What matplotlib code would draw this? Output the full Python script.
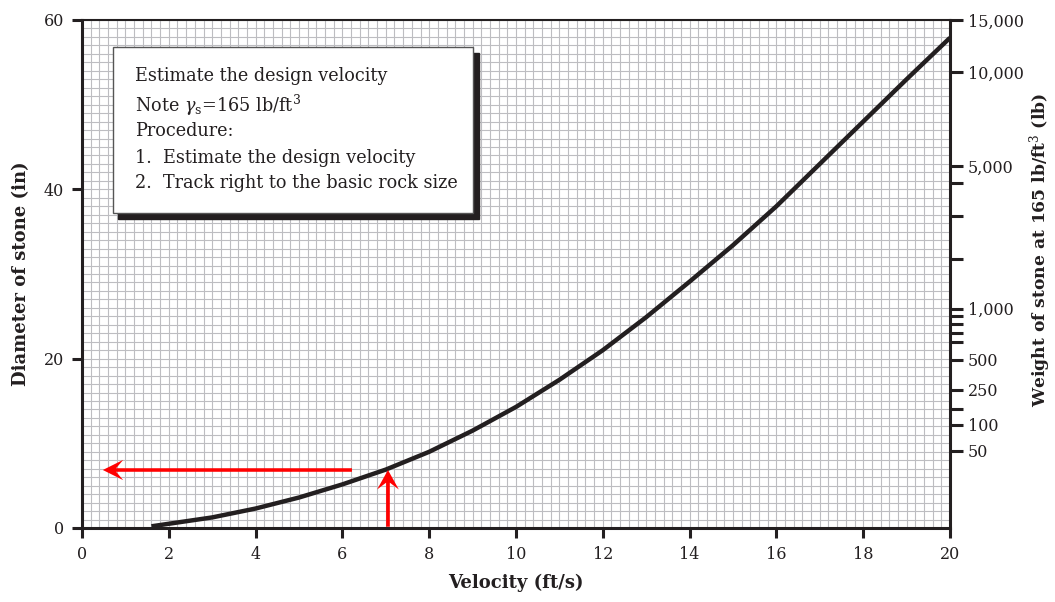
import numpy as np
import matplotlib
matplotlib.use("Agg")
import matplotlib.pyplot as plt
from matplotlib.patches import Rectangle

plt.rcParams['font.family'] = ['DejaVu Serif']
plt.rcParams['mathtext.fontset'] = 'dejavuserif'

# Curve: velocity (ft/s) vs stone diameter (in)
velocity = [1.6, 2, 3, 4, 5, 6, 7, 8, 9, 10, 11, 12, 13, 14, 15, 16, 17, 18, 19, 20]
diameter = [0.2, 0.5, 1.25, 2.3, 3.6, 5.15, 6.9, 9.0, 11.5, 14.3, 17.5, 21.0,
            24.9, 29.1, 33.4, 38.0, 43.0, 48.0, 53.0, 57.9]

# Right axis: weight ticks placed at the diameters where they sit on the chart
weight_tick_diam = [60.0, 53.8, 42.75, 40.8, 36.8, 31.8, 25.9, 25.0, 24.06, 23.07,
                    22.0, 19.9, 16.3, 14.1, 12.2, 9.1]
weight_tick_labels = ['15,000', '10,000', '5,000', '', '', '', '1,000', '', '', '',
                      '', '500', '250', '', '100', '50']

x_ticks = list(range(0, 21, 2))
y_ticks = [0, 20, 40, 60]

# Worked example shown with the red arrows
design_velocity = 7.05
design_diameter = 6.85

box_lines = [
    'Estimate the design velocity',
    'Note $\\gamma_{\\mathrm{s}}$=165 lb/ft$^3$',
    'Procedure:',
    '1.  Estimate the design velocity',
    '2.  Track right to the basic rock size',
]

ink = '#231f20'

fig = plt.figure(figsize=(10.55, 6.02), dpi=100)
ax = fig.add_axes([82 / 1055, 74 / 602, 868 / 1055, 508 / 602])

ax.set_xlim(0, 20)
ax.set_ylim(0, 60)

# graph paper grid
ax.set_xticks(np.arange(0, 20.001, 0.2), minor=True)
ax.set_yticks(np.arange(0, 60.001, 1), minor=True)
ax.grid(which='both', color='#bdbdc1', linewidth=0.8, zorder=0)
ax.set_axisbelow(True)

ax.set_xticks(x_ticks)
ax.set_yticks(y_ticks)
ax.tick_params(which='minor', length=0)
ax.tick_params(which='major', length=7, width=2.2, color=ink, labelsize=11.5,
               labelcolor=ink, pad=6)

for side in ['left', 'bottom', 'top', 'right']:
    ax.spines[side].set_linewidth(2.2)
    ax.spines[side].set_color(ink)
ax.spines['top'].set_linewidth(1.5)

ax.plot(velocity, diameter, color=ink, linewidth=3.2, solid_capstyle='butt',
        solid_joinstyle='round', zorder=3)

# red arrows: up from the velocity, then left to the diameter axis
ax.arrow(design_velocity, 0.15, 0, design_diameter - 0.15, width=0.085,
         head_width=0.5, head_length=2.3, overhang=0.35, length_includes_head=True,
         color='#ff0000', linewidth=0, zorder=4)
ax.arrow(6.22, design_diameter, 0.48 - 6.22, 0, width=0.42,
         head_width=2.4, head_length=0.47, overhang=0.35, length_includes_head=True,
         color='#ff0000', linewidth=0, zorder=4)

ax.set_xlabel('Velocity (ft/s)', fontsize=13, fontweight='bold', color=ink, labelpad=8)
ax.set_ylabel('Diameter of stone (in)', fontsize=13, fontweight='bold', color=ink, labelpad=10)

# right weight axis
ax2 = ax.twinx()
ax2.set_ylim(0, 60)
ax2.set_yticks(weight_tick_diam)
ax2.set_yticklabels(weight_tick_labels)
ax2.tick_params(axis='y', length=9, width=2.2, color=ink, labelsize=11.5,
                labelcolor=ink, pad=4)
for side in ['left', 'bottom', 'top', 'right']:
    ax2.spines[side].set_visible(False)
ax2.set_ylabel('Weight of stone at 165 lb/ft$^3$ (lb)', fontsize=12.3, fontweight='bold',
               color=ink)
ax2.yaxis.set_label_coords(1.089, 0.547)

# note box with drop shadow
bx0, by0, bw, bh = 0.71, 37.2, 8.3, 19.6
ax.add_patch(Rectangle((bx0 + 0.13, by0 - 0.65), bw, bh, facecolor=ink,
                       edgecolor=ink, zorder=5))
ax.add_patch(Rectangle((bx0, by0), bw, bh, facecolor='white', edgecolor='#555555',
                       linewidth=1.0, zorder=6))
line_y = [53.4, 49.9, 46.9, 43.7, 40.8]
for txt, yy in zip(box_lines, line_y):
    ax.text(1.22, yy, txt, fontsize=12.7, color=ink, va='center', ha='left', zorder=7)

fig.savefig('out.png', dpi=100)
